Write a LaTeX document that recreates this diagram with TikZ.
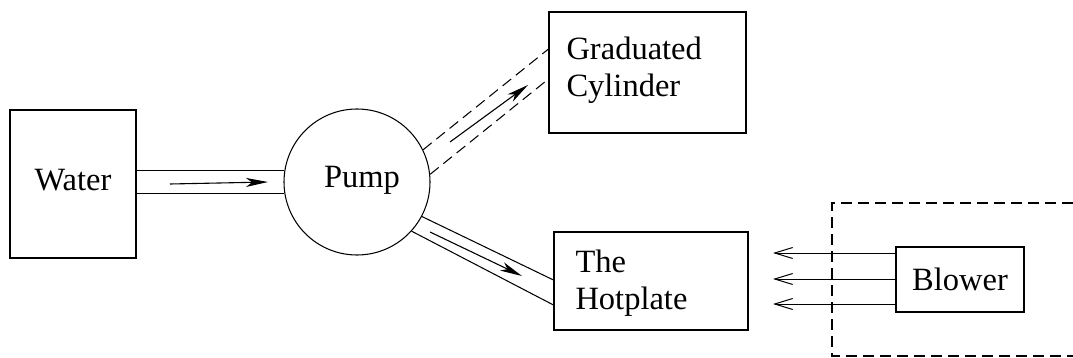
\documentclass[tikz,border=0pt]{standalone}
\usepackage{fontspec}
\setmainfont{DejaVu Serif}
\newfontfamily\tnr{Liberation Serif}
\usetikzlibrary{arrows.meta}
\begin{document}
\begin{tikzpicture}[x=1pt,y=-1pt,line width=1.05pt,
  box/.style={draw,rectangle,inner sep=0pt},
  lbl/.style={inner sep=0pt,font=\tnr\fontsize{32.5}{37}\selectfont},
  flow/.style={-{Stealth[length=22pt,width=9pt,inset=6pt]},line width=1.1pt},
  blow/.style={-{Straight Barb[length=18pt,width=11pt]},line width=1pt},
  dsh/.style={dash pattern=on 11pt off 6pt}]
\useasboundingbox (0,0) rectangle (1073,358);
% boxes
\node[box,minimum width=126pt,minimum height=148pt] (water) at (73,184) {};
\node[lbl] (waterT) at (73,180) {Water};
\node[draw,circle,minimum size=146pt,inner sep=0pt] (pump) at (357,182) {};
\node[lbl] (pumpT) at (362,180) {Pump};
\node[box,minimum width=197pt,minimum height=121pt] (cyl) at (647.5,72.5) {};
\node[lbl,anchor=base west] (cylT1) at (566,60) {Graduated};
\node[lbl,anchor=base west] (cylT2) at (566,97) {Cylinder};
\node[box,minimum width=194pt,minimum height=98pt] (hot) at (651,281) {};
\node[lbl,anchor=base west] (hotT1) at (575,272) {The};
\node[lbl,anchor=base west] (hotT2) at (575,309) {Hotplate};
\node[box,minimum width=128pt,minimum height=65pt] (blower) at (960,279.5) {};
\node[lbl] (blowerT) at (960,279) {Blower};
\draw[dsh] (1073,203) -- (832,203) -- (832,356) -- (1073,356);
% water -> pump channel
\draw (pump.171.3) -- (water.east |- pump.171.3);
\draw (pump.189.9) -- (water.east |- pump.189.9);
\coordinate (wa1) at (170,184);
\coordinate (wa2) at (268,182);
\draw[flow] (wa1) -- (wa2);
% pump -> cylinder channel (dashed)
\coordinate (c1) at (cyl.west |- 0,49);
\coordinate (c2) at (cyl.west |- 0,79);
\draw[dsh] (pump.26.6) -- (c1);
\draw[dsh] (pump.6) -- (c2);
\coordinate (ca1) at (450,142);
\coordinate (ca2) at (528,85);
\draw[flow] (ca1) -- (ca2);
% pump -> hotplate channel
\coordinate (h1) at (hot.west |- 0,280);
\coordinate (h2) at (hot.west |- 0,305);
\draw (pump.-28) -- (h1);
\draw (pump.-42) -- (h2);
\coordinate (ha1) at (430,232);
\coordinate (ha2) at (522,276);
\draw[flow] (ha1) -- (ha2);
% blower arrows
\coordinate (b1) at (773,253);
\coordinate (b2) at (773,279);
\coordinate (b3) at (773,304);
\draw[blow] (blower.west |- b1) -- (b1);
\draw[blow] (blower.west |- b2) -- (b2);
\draw[blow] (blower.west |- b3) -- (b3);
\end{tikzpicture}
\end{document}
